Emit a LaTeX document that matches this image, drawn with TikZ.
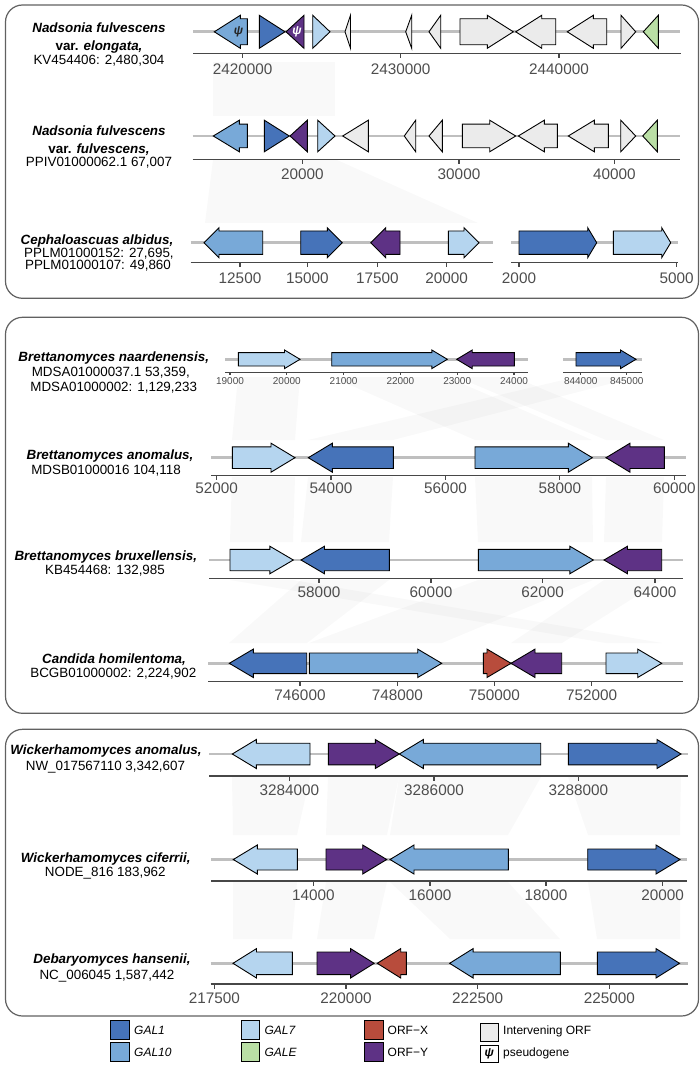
\documentclass[tikz,border=0pt]{standalone}
\usepackage{fontspec}
\setmainfont{Liberation Sans}
\definecolor{gone}{HTML}{4673B9}
\definecolor{gten}{HTML}{78A9D8}
\definecolor{gseven}{HTML}{B5D5EF}
\definecolor{ge}{HTML}{BADFA5}
\definecolor{gx}{HTML}{B84C3C}
\definecolor{gy}{HTML}{5E3285}
\definecolor{gint}{HTML}{EBEBEB}
\definecolor{ticktxt}{HTML}{4D4D4D}
\newcommand\gHB{10}
\newcommand\gHH{14}
\newcommand\gHL{24}
\newcommand\setgene[3]{\renewcommand\gHB{#1}\renewcommand\gHH{#2}\renewcommand\gHL{#3}}
% right-pointing gene: start, tip, y, colour
\newcommand\rgene[4]{%
  \pgfmathsetmacro\gxx{max(#1,#2-\gHL)}%
  \ifdim\gxx pt>#1pt
    \draw[gene,fill=#4] (#1,#3-\gHB) -- (\gxx,#3-\gHB) -- (\gxx,#3-\gHH) -- (#2,#3) -- (\gxx,#3+\gHH) -- (\gxx,#3+\gHB) -- (#1,#3+\gHB) -- cycle;
  \else
    \draw[gene,fill=#4] (#1,#3-\gHH) -- (#2,#3) -- (#1,#3+\gHH) -- cycle;
  \fi}
% left-pointing gene: tip, end, y, colour
\newcommand\lgene[4]{%
  \pgfmathsetmacro\gxx{min(#2,#1+\gHL)}%
  \ifdim\gxx pt<#2pt
    \draw[gene,fill=#4] (#2,#3-\gHB) -- (\gxx,#3-\gHB) -- (\gxx,#3-\gHH) -- (#1,#3) -- (\gxx,#3+\gHH) -- (\gxx,#3+\gHB) -- (#2,#3+\gHB) -- cycle;
  \else
    \draw[gene,fill=#4] (#2,#3-\gHH) -- (#1,#3) -- (#2,#3+\gHH) -- cycle;
  \fi}
% synteny link: top x1 x2, top y, bottom x3 x4, bottom y
\newcommand\glink[6]{\fill[linkfill] (#1,#3) -- (#2,#3) -- (#5,#6) -- (#4,#6) -- cycle;}
\begin{document}
\begin{tikzpicture}[x=1pt,y=-1pt,
  gene/.style={draw=black,line width=0.9pt,line join=miter},
  backbone/.style={draw=black!25,line width=2.6pt},
  axisl/.style={draw=black!72,line width=1.1pt},
  tick/.style={anchor=center,inner sep=0pt,text=ticktxt,font=\fontsize{15.3}{18}\selectfont},
  smalltick/.style={anchor=center,inner sep=0pt,text=ticktxt,font=\fontsize{10}{12}\selectfont},
  lbl/.style={anchor=base,inner sep=0pt,font=\fontsize{13.4}{16}\selectfont},
  blbl/.style={anchor=base,inner sep=0pt,font=\fontsize{13.4}{16}\selectfont\bfseries\itshape},
  panel/.style={draw=black!62,line width=1.2pt,rounded corners=17pt},
  linkfill/.style={fill=black,fill opacity=0.022},
  leg/.style={anchor=west,inner sep=0pt,font=\fontsize{12}{14}\selectfont},
  swatch/.style={draw=black,line width=0.9pt},
  psi/.style={inner sep=0pt,font=\fontsize{12}{14}\selectfont\bfseries\itshape}]
\useasboundingbox (0,0) rectangle (700,1067);
\fill[white] (0,0) rectangle (700,1067);

% ---------------- synteny links ----------------
\fill[linkfill] (213,62) -- (335,62) -- (335,116) -- (213,116) -- cycle;
\fill[linkfill] (213,160) -- (337,160) -- (478,223) -- (205,223) -- cycle;
\glink{238}{300}{377}{232}{295}{440}
\glink{332}{447}{377}{475}{592}{440}
\glink{457}{514}{377}{606}{664}{440}
\glink{576}{636}{377}{308}{393}{440}
\glink{232}{295}{477}{230}{293}{542}
\glink{308}{393}{477}{301}{389}{542}
\glink{475}{592}{477}{478}{593}{542}
\glink{606}{664}{477}{604}{662}{542}
\glink{230}{293}{580}{606}{662}{643}
\glink{301}{389}{580}{229}{307}{643}
\glink{478}{593}{580}{309}{442}{643}
\glink{604}{662}{580}{511}{562}{643}
\glink{232}{310}{777}{233}{297}{835}
\glink{328}{399}{777}{326}{387}{835}
\glink{399}{541}{777}{390}{508}{835}
\glink{568}{681}{777}{588}{680}{835}
\glink{233}{297}{882}{233}{292}{939}
\glink{326}{387}{882}{317}{374}{939}
\glink{390}{508}{882}{450}{560}{939}
\glink{588}{680}{882}{597}{680}{939}

% ---------------- panels ----------------
\draw[panel] (5.5,5) rectangle (698.5,298.3);
\draw[panel] (5.5,317.3) rectangle (698.5,713.3);
\draw[panel] (5.5,729.3) rectangle (698.5,1016);

% ---------------- Track 1 ----------------
\node[blbl] (n1a) at (99,32.3) {Nadsonia fulvescens};
\node[lbl] (n1b) at (99,50.7) {\textbf{var. \textit{elongata,}}};
\node[lbl] (n1c) at (99,64.3) {KV454406: 2,480,304};
\draw[backbone] (193,31.8) -- (680,31.8);
\draw[axisl] (193,53.3) -- (680.7,53.3);
\foreach \x/\l in {242.7/2420000,400.7/2430000,559/2440000}{
  \draw[axisl] (\x,53.3) -- (\x,57.8);
  \node[tick] (t1-\l) at (\x,69.5) {\l};}
\setgene{13}{16.5}{26}
\lgene{214.3}{247.3}{31.8}{gten}
\rgene{259.3}{285}{31.8}{gone}
\lgene{286}{304}{31.8}{gy}
\rgene{312.7}{330}{31.8}{gseven}
\lgene{345}{350.5}{31.8}{gint}
\lgene{405.7}{411.7}{31.8}{gint}
\lgene{429}{440.7}{31.8}{gint}
\rgene{460}{513.3}{31.8}{gint}
\lgene{515.7}{555.7}{31.8}{gint}
\lgene{567.3}{606.7}{31.8}{gint}
\rgene{621}{635.7}{31.8}{gint}
\lgene{643.3}{658.3}{31.8}{ge}
\node[psi,text=black!85] (psi1) at (238.5,31.8) {ψ};
\node[psi,text=white] (psi2) at (297,31.8) {ψ};

% ---------------- Track 2 ----------------
\node[blbl] (n2a) at (99,136) {Nadsonia fulvescens};
\node[lbl] (n2b) at (99,153.8) {\textbf{var. \textit{fulvescens,}}};
\node[lbl] (n2c) at (99,166.5) {PPIV01000062.1 67,007};
\draw[backbone] (192.7,136) -- (680,136);
\draw[axisl] (192.7,159.3) -- (680,159.3);
\foreach \x/\l in {302.3/20000,459/30000,614.3/40000}{
  \draw[axisl] (\x,159.3) -- (\x,163.8);
  \node[tick] (t2-\l) at (\x,174) {\l};}
\setgene{11.8}{15.8}{26}
\lgene{213.3}{247.3}{136}{gten}
\rgene{264.3}{289.3}{136}{gone}
\lgene{290}{307.3}{136}{gy}
\rgene{317.7}{335}{136}{gseven}
\lgene{342.7}{368.3}{136}{gint}
\lgene{404.3}{415.7}{136}{gint}
\lgene{429}{442.3}{136}{gint}
\rgene{462.3}{515.7}{136}{gint}
\lgene{518.3}{557.3}{136}{gint}
\lgene{568.3}{608.3}{136}{gint}
\rgene{620.7}{635.7}{136}{gint}
\lgene{642.7}{657.3}{136}{ge}

% ---------------- Track 3 ----------------
\node[blbl] (n3a) at (97,244.8) {Cephaloascuas albidus,};
\node[lbl] (n3b) at (99,257.3) {PPLM01000152: 27,695,};
\node[lbl] (n3c) at (98,269.8) {PPLM01000107: 49,860};
\draw[backbone] (190.7,242.7) -- (492.7,242.7);
\draw[backbone] (511,242.7) -- (678.3,242.7);
\draw[axisl] (190.7,262.7) -- (492.7,262.7);
\draw[axisl] (511,262.7) -- (678.3,262.7);
\foreach \x/\l in {240/12500,307.3/15000,377.3/17500,446.7/20000,519/2000,676.7/5000}{
  \draw[axisl] (\x,262.7) -- (\x,267.2);
  \node[tick] (t3-\l) at (\x,278.7) {\l};}
\setgene{11.7}{15}{15}
\lgene{204}{262.7}{242.7}{gten}
\rgene{300.7}{342.3}{242.7}{gone}
\lgene{370.7}{400}{242.7}{gy}
\rgene{448.3}{479}{242.7}{gseven}
\setgene{11.7}{15}{9}
\rgene{519}{596.7}{242.7}{gone}
\rgene{613.3}{670.7}{242.7}{gseven}

% ---------------- Track 4 ----------------
\node[blbl] (n4a) at (113.8,361.5) {Brettanomyces naardenensis,};
\node[lbl] (n4b) at (110.8,376) {MDSA01000037.1 53,359,};
\node[lbl] (n4c) at (113.7,391) {MDSA01000002: 1,129,233};
\draw[backbone] (225,359.3) -- (528.3,359.3);
\draw[backbone] (563.3,359.3) -- (641.7,359.3);
\draw[axisl] (225,372.3) -- (528.3,372.3);
\draw[axisl] (563.3,372.3) -- (641.7,372.3);
\foreach \x/\l in {230/19000,286.8/20000,343.6/21000,400.4/22000,457.2/23000,514/24000,580.7/844000,626.7/845000}{
  \draw[axisl] (\x,372.3) -- (\x,375.3);
  \node[smalltick] (t4-\l) at (\x,381.5) {\l};}
\setgene{6.7}{9.3}{15.5}
\rgene{238.3}{300}{359.3}{gseven}
\rgene{331.7}{447.3}{359.3}{gten}
\lgene{456.7}{514.3}{359.3}{gy}
\rgene{576}{636}{359.3}{gone}

% ---------------- Track 5 ----------------
\node[blbl] (n5a) at (110,459.8) {Brettanomyces anomalus,};
\node[lbl] (n5b) at (106,474.5) {MDSB01000016 104,118};
\draw[backbone] (211,457.7) -- (685.7,457.7);
\draw[axisl] (211,475.7) -- (685.7,475.7);
\foreach \x/\l in {216.7/52000,331/54000,445.5/56000,559.9/58000,674.3/60000}{
  \draw[axisl] (\x,475.7) -- (\x,480.2);
  \node[tick] (t5-\l) at (\x,488) {\l};}
\setgene{10.8}{14.5}{24}
\rgene{232.3}{295}{457.7}{gseven}
\lgene{308.3}{393.3}{457.7}{gone}
\rgene{475}{592.3}{457.7}{gten}
\lgene{606}{664.3}{457.7}{gy}

% ---------------- Track 6 ----------------
\node[blbl] (n6a) at (105.8,560.6) {Brettanomyces bruxellensis,};
\node[lbl] (n6b) at (105,574.8) {KB454468: 132,985};
\draw[backbone] (209,560) -- (682.7,560);
\draw[axisl] (209,578.3) -- (682.7,578.3);
\foreach \x/\l in {319/58000,431/60000,542.7/62000,655/64000}{
  \draw[axisl] (\x,578.3) -- (\x,582.8);
  \node[tick] (t6-\l) at (\x,592) {\l};}
\setgene{10.7}{13.8}{23.5}
\rgene{230}{293.3}{560}{gseven}
\lgene{301}{389.3}{560}{gone}
\rgene{478.3}{593.3}{560}{gten}
\lgene{604}{661.7}{560}{gy}

% ---------------- Track 7 ----------------
\node[blbl] (n7a) at (114,663.8) {Candida homilentoma,};
\node[lbl] (n7b) at (113.3,677.8) {BCGB01000002: 2,224,902};
\draw[backbone] (208.3,663.3) -- (682.7,663.3);
\draw[axisl] (208.3,681.7) -- (682.7,681.7);
\foreach \x/\l in {300/746000,397.3/748000,494.3/750000,591.7/752000}{
  \draw[axisl] (\x,681.7) -- (\x,686.2);
  \node[tick] (t7-\l) at (\x,695) {\l};}
\setgene{10.3}{14.2}{24}
\lgene{229.3}{306.7}{663.3}{gone}
\rgene{309.3}{441.7}{663.3}{gten}
\rgene{483.3}{511}{663.3}{gx}
\lgene{511}{561.7}{663.3}{gy}
\rgene{606}{661.7}{663.3}{gseven}

% ---------------- Track 8 ----------------
\node[blbl] (n8a) at (106,754) {Wickerhamomyces anomalus,};
\node[lbl] (n8b) at (105.5,770.6) {NW\_017567110 3,342,607};
\draw[backbone] (209.3,754) -- (688.3,754);
\draw[axisl] (209.3,776) -- (688.3,776);
\foreach \x/\l in {289.3/3284000,434/3286000,578.3/3288000}{
  \draw[axisl] (\x,776) -- (\x,780.5);
  \node[tick] (t8-\l) at (\x,790.5) {\l};}
\setgene{10.8}{14.5}{24}
\lgene{232.3}{310}{754}{gseven}
\rgene{328.3}{399.3}{754}{gy}
\lgene{399.3}{540.7}{754}{gten}
\rgene{568.3}{681}{754}{gone}

% ---------------- Track 9 ----------------
\node[blbl] (n9a) at (105.8,862.3) {Wickerhamomyces ciferrii,};
\node[lbl] (n9b) at (105.3,876.5) {NODE\_816 183,962};
\draw[backbone] (211,859.5) -- (686.7,859.5);
\draw[axisl] (211,881) -- (686.7,881);
\foreach \x/\l in {313.3/14000,430/16000,546/18000,662.7/20000}{
  \draw[axisl] (\x,881) -- (\x,885.5);
  \node[tick] (t9-\l) at (\x,895) {\l};}
\setgene{10.5}{14.5}{24}
\lgene{233.3}{297.3}{859.5}{gseven}
\rgene{326}{386.7}{859.5}{gy}
\lgene{390}{508.3}{859.5}{gten}
\rgene{587.7}{680}{859.5}{gone}

% ---------------- Track 10 ----------------
\node[blbl] (n10a) at (112,963.8) {Debaryomyces hansenii,};
\node[lbl] (n10b) at (107,979) {NC\_006045 1,587,442};
\draw[backbone] (210.7,963.3) -- (687.5,963.3);
\draw[axisl] (210.7,984) -- (687.5,984);
\foreach \x/\l in {214.3/217500,346/220000,477.7/222500,609.4/225000}{
  \draw[axisl] (\x,984) -- (\x,988.5);
  \node[tick] (t10-\l) at (\x,998.7) {\l};}
\setgene{11.3}{14.7}{23.5}
\lgene{233}{292.4}{963.3}{gseven}
\rgene{317}{374.1}{963.3}{gy}
\lgene{377.2}{406.3}{963.3}{gx}
\lgene{449.6}{560.3}{963.3}{gten}
\rgene{597.3}{679.5}{963.3}{gone}

% ---------------- Legend ----------------
\draw[swatch,fill=gone] (110.7,1020) rectangle (129.5,1039.3);
\node[leg] (lg1) at (134,1030) {\textit{GAL1}};
\draw[swatch,fill=gten] (110.7,1042.3) rectangle (129.5,1061.7);
\node[leg] (lg2) at (134,1052.5) {\textit{GAL10}};
\draw[swatch,fill=gseven] (241,1020) rectangle (259.8,1039.3);
\node[leg] (lg3) at (264.3,1030) {\textit{GAL7}};
\draw[swatch,fill=ge] (241,1042.3) rectangle (259.8,1061.7);
\node[leg] (lg4) at (264.3,1052.5) {\textit{GALE}};
\draw[swatch,fill=gx] (364.7,1020) rectangle (383,1039.3);
\node[leg] (lg5) at (387.5,1030) {ORF−X};
\draw[swatch,fill=gy] (364.7,1042.3) rectangle (383,1061.7);
\node[leg] (lg6) at (387.5,1052.5) {ORF−Y};
\draw[swatch,fill=gint] (480,1023) rectangle (498.7,1041.7);
\node[leg] (lg7) at (503,1031.5) {Intervening ORF};
\draw[swatch,fill=white] (480,1045) rectangle (498.7,1062.7);
\node[psi] (lgpsi) at (489.3,1053.8) {ψ};
\node[leg] (lg8) at (503,1053.5) {pseudogene};
\end{tikzpicture}
\end{document}
